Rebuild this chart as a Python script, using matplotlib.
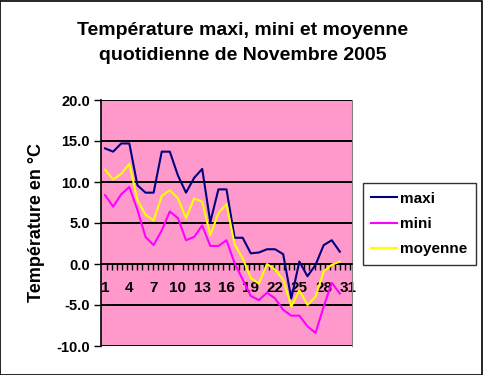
import numpy as np
import matplotlib
matplotlib.use("Agg")
import matplotlib.pyplot as plt

plt.rcParams['font.family'] = ['Liberation Sans', 'DejaVu Sans']

# ----------------------
# Data: daily temperatures, November 2005
# ----------------------
days = list(range(1, 31))
maxi = [14.1, 13.7, 14.7, 14.7, 9.6, 8.7, 8.7, 13.7, 13.7, 10.8,
        8.7, 10.5, 11.6, 5.1, 9.1, 9.1, 3.2, 3.2, 1.3, 1.4,
        1.8, 1.8, 1.2, -4.2, 0.3, -1.5, -0.1, 2.3, 2.9, 1.5]
mini = [8.4, 7.0, 8.5, 9.4, 6.6, 3.3, 2.3, 4.1, 6.4, 5.6,
        2.9, 3.3, 4.7, 2.2, 2.2, 2.9, 0.1, -1.9, -3.9, -4.4,
        -3.5, -4.2, -5.6, -6.3, -6.3, -7.6, -8.4, -5.2, -2.3, -3.6]
moyenne = [11.5, 10.3, 11.0, 12.2, 7.8, 6.0, 5.3, 8.3, 9.0, 8.0,
           5.6, 8.0, 7.6, 3.5, 6.2, 7.3, 2.4, 0.7, -1.7, -2.4,
           0.0, -0.7, -1.9, -5.2, -3.2, -5.0, -4.0, -0.9, -0.1, 0.3]
tick_days = list(range(1, 32, 3))
y_ticks = [-10, -5, 0, 5, 10, 15, 20]

fig = plt.figure(figsize=(4.83, 3.75), dpi=100)
fig.patch.set_facecolor("white")
fig.patches.append(plt.Rectangle((0.001, 0.001), 0.997, 0.996, transform=fig.transFigure,
                                 fill=False, edgecolor="black", linewidth=1.2))

ax = fig.add_axes([101 / 483, 29 / 375, 251 / 483, 246 / 375])
ax.set_facecolor("#FF99CC")

for v in y_ticks:
    ax.axhline(v, color="black", linewidth=1.4, zorder=1)

ax.plot(days, maxi, color="#000080", linewidth=1.5, label="maxi", zorder=3)
ax.plot(days, mini, color="#FF00FF", linewidth=1.5, label="mini", zorder=3)
ax.plot(days, moyenne, color="#FFFF00", linewidth=1.5, label="moyenne", zorder=3)

ax.set_xlim(0.5, 31.5)
ax.set_ylim(-10, 20)

ax.spines["left"].set_color("black")
ax.spines["left"].set_linewidth(1.2)
ax.spines["right"].set_color("#808080")
ax.spines["top"].set_visible(False)
ax.spines["bottom"].set_position(("data", 0))
ax.spines["bottom"].set_color("black")
ax.spines["bottom"].set_linewidth(1.2)

ax.set_yticks(y_ticks)
ax.set_yticklabels([f"{v:.1f}" for v in y_ticks], fontsize=10.5, fontweight="bold")
ax.tick_params(axis="y", length=5, width=1, pad=3)

ax.set_xticks(tick_days)
ax.set_xticklabels([str(d) for d in tick_days], fontsize=11, fontweight="bold")
ax.set_xticks(np.arange(1.25, 31.5, 0.625), minor=True)
ax.tick_params(axis="x", which="major", length=0, pad=12)
ax.tick_params(axis="x", which="minor", length=4, width=1, direction="out")

ax.set_ylabel("Température en °C", fontsize=13, fontweight="bold", labelpad=8)

fig.text(243 / 483, 1 - 43 / 375, "Température maxi, mini et moyenne\nquotidienne de Novembre 2005",
         ha="center", va="center", fontsize=14, fontweight="bold", linespacing=1.55)

leg = ax.legend(loc="center left", bbox_to_anchor=(363 / 483, 1 - 224 / 375),
                bbox_transform=fig.transFigure, borderaxespad=0, frameon=True, fancybox=False,
                prop={"size": 11, "weight": "bold"}, handlelength=1.7,
                handletextpad=0.2, labelspacing=0.75, borderpad=0.55)
leg.get_frame().set_edgecolor("black")
leg.get_frame().set_linewidth(1.0)

fig.savefig("out.png", dpi=100)
